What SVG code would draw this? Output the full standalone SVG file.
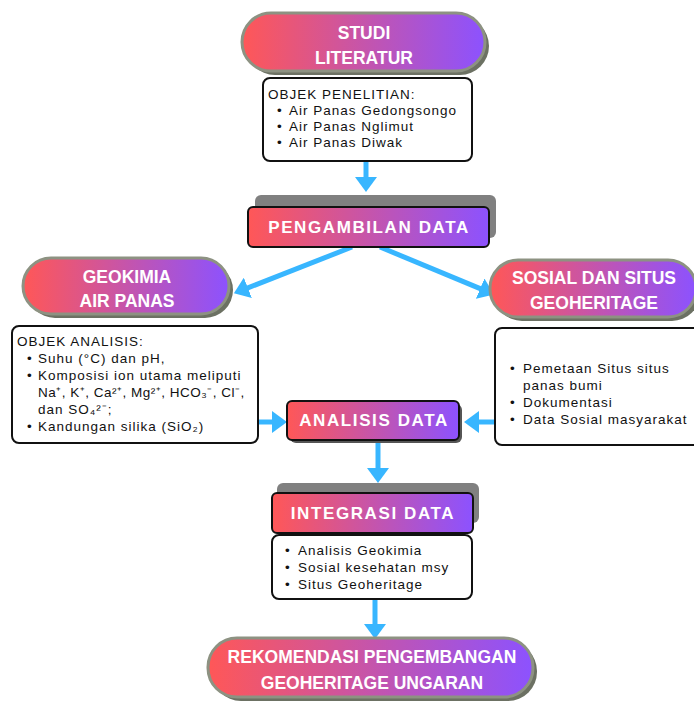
<svg xmlns="http://www.w3.org/2000/svg" width="694" height="704" viewBox="0 0 694 704">
<defs>
<linearGradient id="g" x1="0" y1="0" x2="1" y2="0">
<stop offset="0" stop-color="#ff5757"/>
<stop offset="1" stop-color="#8c52ff"/>
</linearGradient>
<marker id="ah" markerUnits="userSpaceOnUse" markerWidth="16" markerHeight="22" refX="2" refY="11" orient="auto" viewBox="0 0 16 22">
<path d="M0,0 L15,11 L0,22 z" fill="#38b6ff"/>
</marker>
<style>
.pill{fill:url(#g);stroke:#8d9282;stroke-width:3}
.pshadow{fill:#6c7163}
.rect{fill:url(#g);stroke:#111;stroke-width:2}
.box{fill:#fff;stroke:#111;stroke-width:2}
.pt{font-family:"Liberation Sans",Arial,sans-serif;font-weight:bold;font-size:17.5px;fill:#fff;text-anchor:middle}
.rt{font-family:"Liberation Sans",Arial,sans-serif;font-weight:bold;font-size:17px;fill:#fff;text-anchor:middle;letter-spacing:1.6px}
.bt{font-family:"Liberation Sans",Arial,sans-serif;font-size:13.5px;fill:#111;letter-spacing:1px}
.con{stroke:#38b6ff;stroke-width:5;fill:none;marker-end:url(#ah)}
</style>
</defs>
<rect width="694" height="704" fill="#fff"/>

<g id="connectors">
<line class="con" x1="366" y1="161" x2="366" y2="179"/>
<line class="con" x1="352" y1="247" x2="246" y2="288.6"/>
<line class="con" x1="380" y1="247" x2="482" y2="289.4"/>
<line class="con" x1="258" y1="422" x2="274" y2="422"/>
<line class="con" x1="495" y1="422" x2="477" y2="422"/>
<line class="con" x1="378" y1="440" x2="378" y2="470"/>
<line class="con" x1="375" y1="599" x2="375" y2="626"/>
</g>

<g id="studi-literatur">
<rect class="pshadow" x="246" y="17" width="243" height="58" rx="29"/>
<rect class="pill" x="242" y="13" width="243" height="58" rx="29"/>
<text class="pt" x="364" y="39">STUDI</text>
<text class="pt" x="364" y="64">LITERATUR</text>
</g>

<g id="objek-penelitian">
<rect class="box" x="263" y="78" width="209" height="83" rx="7"/>
<text class="bt" x="268" y="99">OBJEK PENELITIAN:</text>
<text class="bt" x="277" y="115">•<tspan x="289">Air Panas Gedongsongo</tspan></text>
<text class="bt" x="277" y="131">•<tspan x="289">Air Panas Nglimut</tspan></text>
<text class="bt" x="277" y="147">•<tspan x="289">Air Panas Diwak</tspan></text>
</g>

<g id="pengambilan-data">
<rect x="255" y="195" width="241" height="43" rx="6" fill="#808080"/>
<rect class="rect" x="248" y="207" width="241" height="40" rx="5"/>
<text class="rt" x="369" y="233">PENGAMBILAN DATA</text>
</g>

<g id="geokimia">
<rect class="pshadow" x="27" y="262" width="206" height="56" rx="28"/>
<rect class="pill" x="23" y="258" width="206" height="56" rx="28"/>
<text class="pt" x="127" y="283">GEOKIMIA</text>
<text class="pt" x="127" y="307">AIR PANAS</text>
</g>

<g id="objek-analisis">
<rect class="box" x="12" y="326" width="246" height="117" rx="7"/>
<text class="bt" x="17" y="346">OBJEK ANALISIS:</text>
<text class="bt" x="27" y="363">•<tspan x="38">Suhu (°C) dan pH,</tspan></text>
<text class="bt" x="27" y="380">•<tspan x="38">Komposisi ion utama meliputi</tspan></text>
<text class="bt" x="38" y="397" style="letter-spacing:0.5px">Na⁺, K⁺, Ca²⁺, Mg²⁺, HCO₃⁻, Cl⁻,</text>
<text class="bt" x="38" y="414">dan SO₄²⁻;</text>
<text class="bt" x="27" y="431">•<tspan x="38">Kandungan silika (SiO₂)</tspan></text>
</g>

<g id="sosial-situs">
<rect class="pshadow" x="494" y="264" width="206" height="57" rx="28"/>
<rect class="pill" x="490" y="260" width="206" height="57" rx="28"/>
<text class="pt" x="594" y="284">SOSIAL DAN SITUS</text>
<text class="pt" x="594" y="309">GEOHERITAGE</text>
</g>

<g id="sosial-list">
<rect class="box" x="495" y="328" width="206" height="117" rx="7"/>
<text class="bt" x="510" y="373">•<tspan x="523">Pemetaan Situs situs</tspan></text>
<text class="bt" x="523" y="390">panas bumi</text>
<text class="bt" x="510" y="407">•<tspan x="523">Dokumentasi</tspan></text>
<text class="bt" x="510" y="424">•<tspan x="523">Data Sosial masyarakat</tspan></text>
</g>

<g id="analisis-data">
<rect x="290" y="404" width="172" height="39" rx="6" fill="#555"/>
<rect class="rect" x="287" y="401" width="172" height="39" rx="5"/>
<text class="rt" x="374" y="426">ANALISIS DATA</text>
</g>

<g id="integrasi-data">
<rect x="277" y="483" width="202" height="40" rx="6" fill="#808080"/>
<rect class="rect" x="272" y="493" width="201" height="40" rx="5"/>
<text class="rt" x="373" y="519">INTEGRASI DATA</text>
</g>

<g id="integrasi-list">
<rect class="box" x="272" y="535" width="200" height="64" rx="7"/>
<text class="bt" x="285" y="555">•<tspan x="298">Analisis Geokimia</tspan></text>
<text class="bt" x="285" y="572">•<tspan x="298">Sosial kesehatan msy</tspan></text>
<text class="bt" x="285" y="589">•<tspan x="298">Situs Geoheritage</tspan></text>
</g>

<g id="rekomendasi">
<rect class="pshadow" x="212" y="642" width="325" height="59" rx="29"/>
<rect class="pill" x="208" y="638" width="325" height="59" rx="29"/>
<text class="pt" x="372" y="663">REKOMENDASI PENGEMBANGAN</text>
<text class="pt" x="372" y="689">GEOHERITAGE UNGARAN</text>
</g>
</svg>
